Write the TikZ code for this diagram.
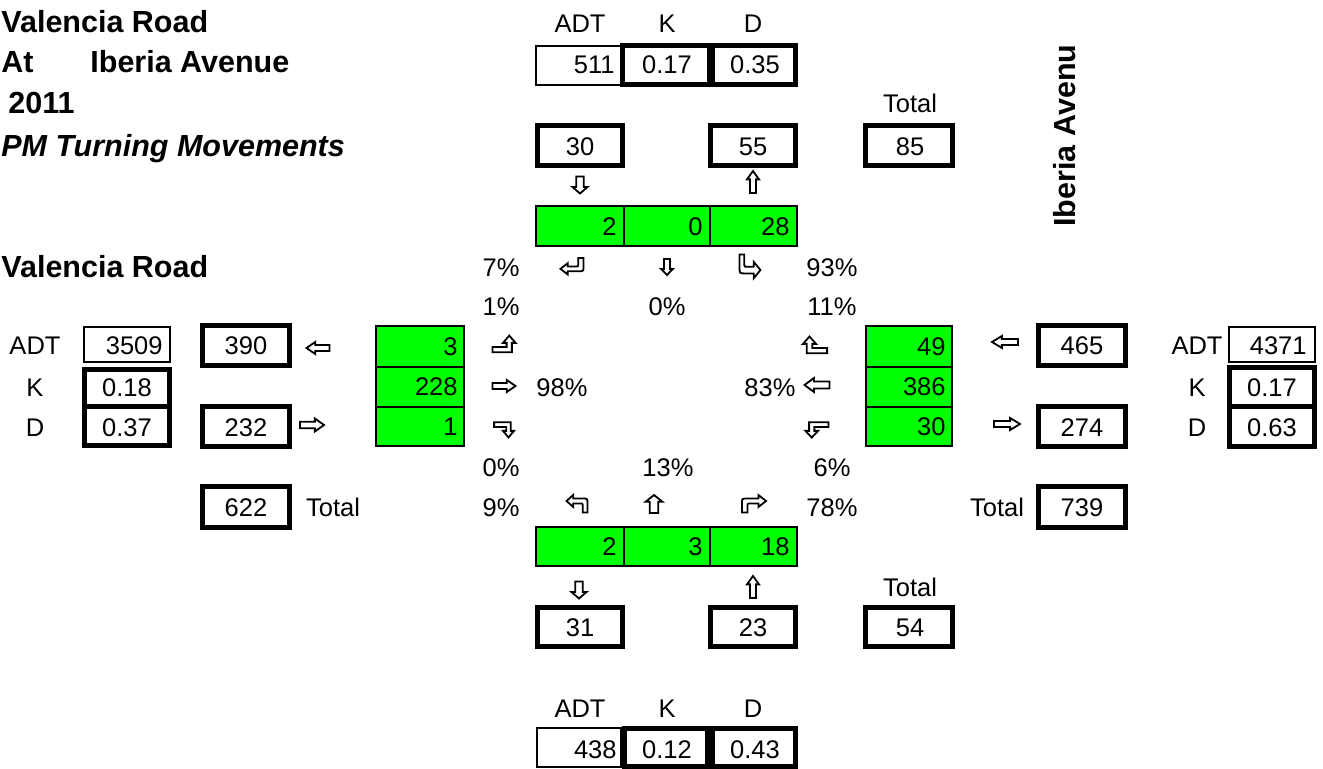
\documentclass[tikz,border=0pt]{standalone}
\usepackage{fontspec}
\setmainfont{Liberation Sans}
\definecolor{cellgreen}{RGB}{0,255,0}
\newcommand{\cellbx}[6]{\node[#2, minimum width={((#5)-(#3))*0.5pt}, minimum height={((#6)-(#4))*0.5pt}] (#1) at ({((#3)+(#5))/2},{((#4)+(#6))/2}) {};}
\tikzset{
  txt/.style={inner sep=0pt, font=\fontsize{12.75pt}{15pt}\selectfont},
  ttl/.style={inner sep=0pt, font=\fontsize{15.25pt}{18pt}\selectfont\bfseries},
  thickbox/.style={draw, line width=2.5pt, inner sep=0pt, outer sep=0pt},
  thinbox/.style={draw, line width=1pt, inner sep=0pt, outer sep=0pt},
  greencell/.style={draw, fill=cellgreen, line width=1.2pt, inner sep=0pt, outer sep=0pt},
  glyph/.style={draw, fill=white, line width=0.9pt, line join=miter},
  pics/sarrow/.style 2 args={code={
    \draw[glyph] ({-0.5*#1},{-0.25*#2}) -- ({0.12*#1},{-0.25*#2}) -- ({0.12*#1},{-0.5*#2}) -- ({0.5*#1},0) -- ({0.12*#1},{0.5*#2}) -- ({0.12*#1},{0.25*#2}) -- ({-0.5*#1},{0.25*#2}) -- cycle;}},
  pics/bentA/.style={code={
    \draw[glyph] (-11,8.5) -- (-11,-0.5) .. controls (-11,-5.5) .. (-6,-5.5) -- (4,-5.5) -- (4,-9) -- (11,-3) -- (4,3) -- (4,-0.5) -- (-5,-0.5) .. controls (-6,-0.5) .. (-6,0.5) -- (-6,8.5) -- cycle;}},
  pics/bentB/.style={code={
    \draw[glyph] (-11,7) -- (7.5,7) -- (7.5,-2) -- (11,-2) -- (5,-9) -- (-1,-2) -- (2.5,-2) -- (2.5,2) -- (-11,2) -- cycle;}},
}
\begin{document}
\begin{tikzpicture}[x=0.5pt,y=-0.5pt]
\useasboundingbox (0,0) rectangle (1323,769);
\fill[white] (0,0) rectangle (1323,769);

% ---------- titles ----------
\node[ttl, anchor=base west] (tA) at (1,33) {Valencia Road};
\node[ttl, anchor=base west] (tB) at (1,73) {At};
\node[ttl, anchor=base west] (tC) at (90,73) {Iberia Avenue};
\node[ttl, anchor=base west] (tD) at (8,114) {2011};
\node[ttl, anchor=base west] (tE) at (1,157) {\itshape PM Turning Movements};
\node[ttl, anchor=base west] (tF) at (1,278) {Valencia Road};
\node[ttl, anchor=base west, rotate=90] (tG) at (1075,227) {Iberia Avenu};

% ---------- green cells ----------
\cellbx{gt1}{greencell}{536}{206}{624}{246}
\cellbx{gt2}{greencell}{624}{206}{710}{246}
\cellbx{gt3}{greencell}{710}{206}{797}{246}
\cellbx{gl1}{greencell}{376}{326}{464}{367}
\cellbx{gl2}{greencell}{376}{367}{464}{407}
\cellbx{gl3}{greencell}{376}{407}{464}{446}
\cellbx{gr1}{greencell}{866}{326}{952}{367}
\cellbx{gr2}{greencell}{866}{367}{952}{407}
\cellbx{gr3}{greencell}{866}{407}{952}{446}
\cellbx{gb1}{greencell}{536}{527}{624}{566}
\cellbx{gb2}{greencell}{624}{527}{710}{566}
\cellbx{gb3}{greencell}{710}{527}{797}{566}

% ---------- boxes ----------
\cellbx{b511}{thinbox}{536}{46}{621}{85}
\cellbx{b017t}{thickbox}{622.5}{45.5}{709.5}{84.5}
\cellbx{b035t}{thickbox}{712.5}{45.5}{795.5}{84.5}
\cellbx{b30}{thickbox}{537.5}{125.5}{622.5}{165.5}
\cellbx{b55}{thickbox}{710.5}{125.5}{795.5}{165.5}
\cellbx{b85}{thickbox}{865.5}{125.5}{952.5}{165.5}

\cellbx{b3509}{thinbox}{84}{327}{170}{362}
\cellbx{b018}{thickbox}{84.5}{369.5}{169.5}{406.5}
\cellbx{b037}{thickbox}{84.5}{406.5}{169.5}{445.5}
\cellbx{b390}{thickbox}{202.5}{325.5}{289.5}{365.5}
\cellbx{b232}{thickbox}{202.5}{406.5}{289.5}{446.5}
\cellbx{b622}{thickbox}{202.5}{486.5}{289.5}{527.5}

\cellbx{b465}{thickbox}{1038.5}{325.5}{1125.5}{365.5}
\cellbx{b274}{thickbox}{1038.5}{406.5}{1125.5}{446.5}
\cellbx{b739}{thickbox}{1038.5}{486.5}{1125.5}{527.5}
\cellbx{b4371}{thinbox}{1229}{327}{1315}{362}
\cellbx{b017r}{thickbox}{1229.5}{367.5}{1314.5}{406.5}
\cellbx{b063}{thickbox}{1229.5}{406.5}{1314.5}{446.5}

\cellbx{b31}{thickbox}{537.5}{607.5}{622.5}{646.5}
\cellbx{b23}{thickbox}{710.5}{607.5}{795.5}{646.5}
\cellbx{b54}{thickbox}{865.5}{607.5}{952.5}{646.5}
\cellbx{b438}{thinbox}{537}{728}{621}{767}
\cellbx{b012}{thickbox}{624.5}{728.5}{707.5}{766.5}
\cellbx{b043}{thickbox}{712.5}{728.5}{795.5}{766.5}

% ---------- top texts ----------
\node[txt, anchor=base] (lADTt) at (580,33) {ADT};
\node[txt, anchor=base] (lKt) at (667,33) {K};
\node[txt, anchor=base] (lDt) at (753,33) {D};
\node[txt, anchor=base east] (v511) at (615,74) {511};
\node[txt, anchor=base] (v017t) at (667,74) {0.17};
\node[txt, anchor=base] (v035t) at (755,74) {0.35};
\node[txt, anchor=base] (lTotT) at (910,113) {Total};
\node[txt, anchor=base] (v30) at (580,156) {30};
\node[txt, anchor=base] (v55) at (753,156) {55};
\node[txt, anchor=base] (v85) at (910,156) {85};
\node[txt, anchor=base east] (vgt1) at (617,236) {2};
\node[txt, anchor=base east] (vgt2) at (703,236) {0};
\node[txt, anchor=base east] (vgt3) at (790,236) {28};

% ---------- left texts ----------
\node[txt, anchor=base] (lADTl) at (35,355) {ADT};
\node[txt, anchor=base] (lKl) at (35,397) {K};
\node[txt, anchor=base] (lDl) at (35,437) {D};
\node[txt, anchor=base east] (v3509) at (163,355) {3509};
\node[txt, anchor=base] (v018) at (127,397) {0.18};
\node[txt, anchor=base] (v037) at (127,437) {0.37};
\node[txt, anchor=base] (v390) at (246,355) {390};
\node[txt, anchor=base] (v232) at (246,437) {232};
\node[txt, anchor=base] (v622) at (246,517) {622};
\node[txt, anchor=base] (lTotL) at (333,517) {Total};
\node[txt, anchor=base east] (vgl1) at (458,356) {3};
\node[txt, anchor=base east] (vgl2) at (458,396) {228};
\node[txt, anchor=base east] (vgl3) at (458,436) {1};

% ---------- right texts ----------
\node[txt, anchor=base east] (vgr1) at (946,356) {49};
\node[txt, anchor=base east] (vgr2) at (946,396) {386};
\node[txt, anchor=base east] (vgr3) at (946,436) {30};
\node[txt, anchor=base] (v465) at (1082,355) {465};
\node[txt, anchor=base] (v274) at (1082,437) {274};
\node[txt, anchor=base] (v739) at (1082,517) {739};
\node[txt, anchor=base] (lTotR) at (997,517) {Total};
\node[txt, anchor=base] (lADTr) at (1197,355) {ADT};
\node[txt, anchor=base] (lKr) at (1197,397) {K};
\node[txt, anchor=base] (lDr) at (1197,437) {D};
\node[txt, anchor=base east] (v4371) at (1307,355) {4371};
\node[txt, anchor=base] (v017r) at (1272,397) {0.17};
\node[txt, anchor=base] (v063) at (1272,437) {0.63};

% ---------- bottom texts ----------
\node[txt, anchor=base east] (vgb1) at (617,556) {2};
\node[txt, anchor=base east] (vgb2) at (703,556) {3};
\node[txt, anchor=base east] (vgb3) at (790,556) {18};
\node[txt, anchor=base] (lTotB) at (910,597) {Total};
\node[txt, anchor=base] (v31) at (580,637) {31};
\node[txt, anchor=base] (v23) at (753,637) {23};
\node[txt, anchor=base] (v54) at (910,637) {54};
\node[txt, anchor=base] (lADTb) at (580,718) {ADT};
\node[txt, anchor=base] (lKb) at (667,718) {K};
\node[txt, anchor=base] (lDb) at (753,718) {D};
\node[txt, anchor=base east] (v438) at (617,758) {438};
\node[txt, anchor=base] (v012) at (667,758) {0.12};
\node[txt, anchor=base] (v043) at (755,758) {0.43};

% ---------- percentages ----------
\node[txt, anchor=base] (p7) at (501,277) {7\%};
\node[txt, anchor=base] (p1) at (501,316) {1\%};
\node[txt, anchor=base] (p0l) at (501,477) {0\%};
\node[txt, anchor=base] (p9) at (501,517) {9\%};
\node[txt, anchor=base] (p93) at (832,277) {93\%};
\node[txt, anchor=base] (p11) at (832,316) {11\%};
\node[txt, anchor=base] (p6) at (832,477) {6\%};
\node[txt, anchor=base] (p78) at (832,517) {78\%};
\node[txt, anchor=base] (p0m) at (667,316) {0\%};
\node[txt, anchor=base] (p13) at (668,477) {13\%};
\node[txt, anchor=base] (p98) at (562,397) {98\%};
\node[txt, anchor=base] (p83) at (770,397) {83\%};

% ---------- straight arrows ----------
\pic[shift={(580,185)}, rotate=-90] {sarrow={17}{15}};
\pic[shift={(753,182)}, rotate=90] {sarrow={22}{12}};
\pic[shift={(667,267)}, rotate=-90] {sarrow={16}{12}};
\pic[shift={(654,504)}, rotate=90] {sarrow={18}{17}};
\pic[shift={(579,590)}, rotate=-90] {sarrow={17}{15}};
\pic[shift={(753,587)}, rotate=90] {sarrow={22}{12}};
\pic[shift={(318,348)}, xscale=-1] {sarrow={23}{12}};
\pic[shift={(312,425)}] {sarrow={24}{13}};
\pic[shift={(504,386)}] {sarrow={23}{12}};
\pic[shift={(817,385)}, xscale=-1] {sarrow={25}{14}};
\pic[shift={(1005,342)}, xscale=-1] {sarrow={26}{12}};
\pic[shift={(1007,424)}] {sarrow={26}{12}};

% ---------- turning arrows ----------
\pic[shift={(572,266)}, xscale=-1.05, yscale=-0.95] {bentA};
\pic[shift={(750,266)}, xscale=0.95, yscale=-1.35] {bentA};
\pic[shift={(504,345)}, xscale=1.05, yscale=1.05] {bentB};
\pic[shift={(504,429)}, xscale=0.9, yscale=-0.95] {bentB};
\pic[shift={(815,346)}, xscale=-1.1, yscale=1.05] {bentB};
\pic[shift={(817,429)}, xscale=-1.05, yscale=-0.95] {bentB};
\pic[shift={(577,504)}, xscale=-0.95] {bentA};
\pic[shift={(754,504)}, xscale=1.1] {bentA};
\end{tikzpicture}
\end{document}
